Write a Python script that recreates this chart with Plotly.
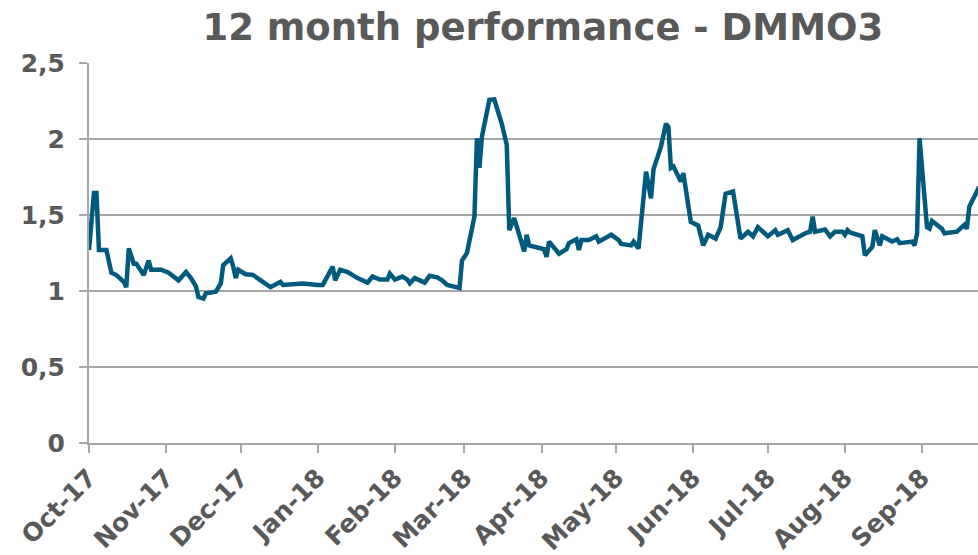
import plotly.graph_objects as go

# Data
dates = [
    "2017-10-01", "2017-10-03", "2017-10-04", "2017-10-05", "2017-10-08", "2017-10-10",
    "2017-10-12", "2017-10-15", "2017-10-16", "2017-10-17", "2017-10-19", "2017-10-20",
    "2017-10-23", "2017-10-25", "2017-10-26", "2017-10-30", "2017-11-02", "2017-11-06",
    "2017-11-09", "2017-11-11", "2017-11-13", "2017-11-14", "2017-11-16", "2017-11-17",
    "2017-11-21", "2017-11-23", "2017-11-24", "2017-11-27", "2017-11-28", "2017-11-29",
    "2017-11-30", "2017-12-03", "2017-12-06", "2017-12-07", "2017-12-09", "2017-12-13",
    "2017-12-17", "2017-12-18", "2017-12-26", "2018-01-01", "2018-01-03", "2018-01-07",
    "2018-01-08", "2018-01-10", "2018-01-13", "2018-01-17", "2018-01-21", "2018-01-23",
    "2018-01-26", "2018-01-29", "2018-01-30", "2018-02-01", "2018-02-04", "2018-02-06",
    "2018-02-07", "2018-02-09", "2018-02-13", "2018-02-15", "2018-02-18", "2018-02-20",
    "2018-02-22", "2018-02-27", "2018-02-28", "2018-03-02", "2018-03-05", "2018-03-06",
    "2018-03-07", "2018-03-08", "2018-03-11", "2018-03-13", "2018-03-16", "2018-03-18",
    "2018-03-19", "2018-03-21", "2018-03-25", "2018-03-26", "2018-03-27", "2018-04-02",
    "2018-04-03", "2018-04-04", "2018-04-08", "2018-04-11", "2018-04-12", "2018-04-15",
    "2018-04-16", "2018-04-17", "2018-04-20", "2018-04-23", "2018-04-24", "2018-04-29",
    "2018-05-02", "2018-05-03", "2018-05-07", "2018-05-08", "2018-05-10", "2018-05-13",
    "2018-05-15", "2018-05-16", "2018-05-19", "2018-05-21", "2018-05-22", "2018-05-23",
    "2018-05-24", "2018-05-27", "2018-05-28", "2018-05-31", "2018-06-03", "2018-06-05",
    "2018-06-07", "2018-06-10", "2018-06-12", "2018-06-14", "2018-06-17", "2018-06-20",
    "2018-06-23", "2018-06-25", "2018-06-27", "2018-07-01", "2018-07-04", "2018-07-05",
    "2018-07-09", "2018-07-11", "2018-07-12", "2018-07-16", "2018-07-18", "2018-07-19",
    "2018-07-20", "2018-07-24", "2018-07-26", "2018-07-28", "2018-07-31", "2018-08-01",
    "2018-08-02", "2018-08-03", "2018-08-08", "2018-08-09", "2018-08-12", "2018-08-13",
    "2018-08-15", "2018-08-16", "2018-08-20", "2018-08-22", "2018-08-23", "2018-08-28",
    "2018-08-29", "2018-08-30", "2018-08-31", "2018-09-03", "2018-09-04", "2018-09-05",
    "2018-09-09", "2018-09-10", "2018-09-15", "2018-09-18", "2018-09-19", "2018-09-20",
    "2018-09-24",
]
values = [
    1.27, 1.645, 1.645, 1.27, 1.27, 1.12,
    1.105, 1.06, 1.025, 1.28, 1.18, 1.18,
    1.105, 1.20, 1.14, 1.14, 1.12, 1.07,
    1.125, 1.085, 1.03, 0.96, 0.95, 0.985,
    0.995, 1.05, 1.17, 1.215, 1.16, 1.085,
    1.14, 1.11, 1.105, 1.095, 1.07, 1.025,
    1.06, 1.04, 1.05, 1.04, 1.04, 1.16,
    1.07, 1.14, 1.125, 1.085, 1.055, 1.095,
    1.075, 1.075, 1.115, 1.075, 1.095, 1.075,
    1.05, 1.085, 1.055, 1.10, 1.09, 1.07,
    1.04, 1.02, 1.20, 1.25, 1.49, 2.005,
    1.81, 2.015, 2.257, 2.26, 2.10, 1.96,
    1.40, 1.48, 1.26, 1.37, 1.30, 1.275,
    1.225, 1.325, 1.245, 1.275, 1.315, 1.34,
    1.27, 1.335, 1.335, 1.36, 1.325, 1.37,
    1.335, 1.31, 1.30, 1.325, 1.28, 1.785,
    1.61, 1.80, 1.95, 2.10, 2.08, 1.81,
    1.82, 1.72, 1.775, 1.456, 1.43, 1.30,
    1.37, 1.345, 1.42, 1.64, 1.655, 1.345,
    1.39, 1.36, 1.42, 1.36, 1.40, 1.37,
    1.40, 1.335, 1.345, 1.38, 1.39, 1.49,
    1.39, 1.405, 1.36, 1.39, 1.39, 1.37,
    1.40, 1.385, 1.36, 1.235, 1.29, 1.40,
    1.30, 1.36, 1.325, 1.34, 1.315, 1.325,
    1.30, 1.38, 2.005, 1.42, 1.41, 1.46,
    1.41, 1.38, 1.39, 1.435, 1.41, 1.555,
    1.685,
]

y_tickvals = [0, 0.5, 1, 1.5, 2, 2.5]
y_ticktext = ["0", "0,5", "1", "1,5", "2", "2,5"]
title_text = "12 month performance - DMMO3"

FONT = "DejaVu Sans"
TEXT_COLOR = "#595959"
GRID_COLOR = "#A6A6A6"
LINE_COLOR = "#005A7D"

fig = go.Figure()
fig.add_trace(go.Scatter(
    x=dates, y=values, mode="lines",
    line=dict(color=LINE_COLOR, width=4.5),
    hoverinfo="x+y", showlegend=False,
))

fig.update_layout(
    width=978, height=555,
    margin=dict(l=89, r=0, t=63, b=112),
    paper_bgcolor="white", plot_bgcolor="white",
    title=dict(
        text="<b>" + title_text + "</b>",
        x=0.555, xanchor="center", y=0.974, yanchor="top",
        font=dict(family=FONT, size=37, color=TEXT_COLOR),
    ),
    xaxis=dict(
        type="date",
        range=["2017-10-01", "2018-09-23 12:00"],
        tick0="2017-10-01", dtick="M1", tickformat="%b-%y",
        tickangle=-45,
        ticks="outside", ticklen=8, tickwidth=2, tickcolor=GRID_COLOR,
        showline=True, linecolor=GRID_COLOR, linewidth=2,
        showgrid=False, zeroline=False, automargin=False,
        tickfont=dict(family=FONT, size=25, color=TEXT_COLOR, weight="bold"),
    ),
    yaxis=dict(
        range=[0, 2.5],
        tickvals=y_tickvals, ticktext=y_ticktext,
        ticks="outside", ticklen=8, tickwidth=2, tickcolor=GRID_COLOR,
        ticklabelstandoff=9,
        showline=True, linecolor=GRID_COLOR, linewidth=2,
        showgrid=True, gridcolor=GRID_COLOR, gridwidth=2,
        zeroline=False, automargin=False,
        tickfont=dict(family=FONT, size=25, color=TEXT_COLOR, weight="bold"),
    ),
)

fig.write_html(
    "out.html",
    config={"displayModeBar": False},
    post_script="document.body.style.margin='0';document.body.style.overflow='hidden';",
)
